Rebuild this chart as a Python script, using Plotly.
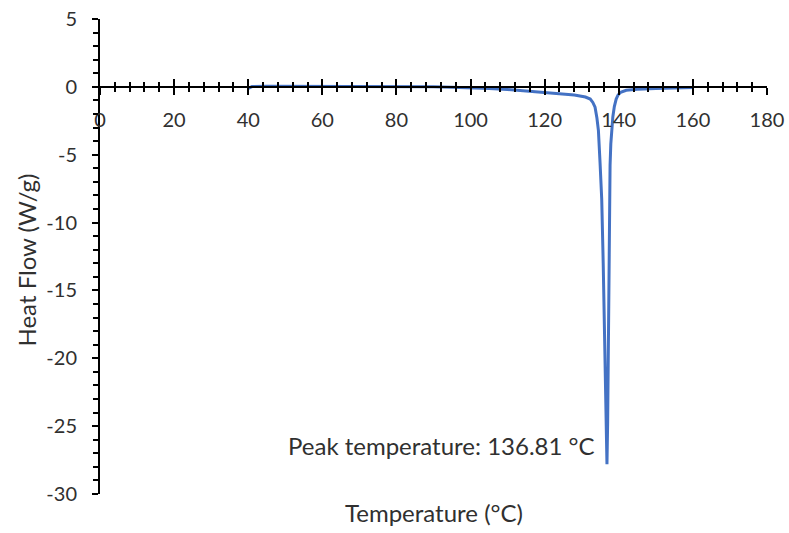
import plotly.graph_objects as go

temperature = [40, 41, 45, 50, 60, 70, 80, 90, 95, 100, 105, 110, 115, 120, 125, 128, 131, 132.3,
               133.0, 133.6, 134.1, 134.5, 134.95, 135.4, 135.8, 136.1, 136.35, 136.55, 136.81,
               137.0, 137.2, 137.35, 137.5, 137.65, 137.85, 138.1, 138.4, 138.8, 139.3, 139.8,
               140.5, 142, 145, 150, 155, 160]
heat_flow = [-0.12, 0.02, 0.05, 0.05, 0.05, 0.04, 0.03, 0.0, -0.02, -0.05, -0.12, -0.2, -0.3, -0.4,
             -0.5, -0.6, -0.75, -0.9,
             -1.15, -1.5, -2.3, -3.2, -5.6, -8.3, -13.0, -17.4, -21.5, -24.7, -27.8,
             -24.7, -17.4, -12.5, -8.3, -5.8, -4.2, -3.2, -2.2, -1.45, -0.9, -0.6,
             -0.4, -0.25, -0.18, -0.12, -0.08, -0.05]
peak_T = 136.81
peak_label = "Peak temperature: 136.81 °C"
x_title = "Temperature (°C)"
y_title = "Heat Flow (W/g)"
x_tick_vals = [0, 20, 40, 60, 80, 100, 120, 140, 160, 180]
x_tick_text = ["0", "20", "40", "60", "80", "100", "120", "140", "160", "180"]
y_tick_vals = [5, 0, -5, -10, -15, -20, -25, -30]
y_tick_text = ["5", "0", "-5", "-10", "-15", "-20", "-25", "-30"]

FONT = "Lato"
TXT = "#303030"
fig = go.Figure()
fig.add_trace(go.Scatter(x=temperature, y=heat_flow, mode="lines",
                         line=dict(color="#4472C4", width=3), showlegend=False))
fig.add_trace(go.Scatter(x=[0], y=[0], xaxis="x2", mode="markers",
                         marker=dict(opacity=0), showlegend=False, hoverinfo="skip"))

pos = 30 / 35
common = dict(range=[0, 180], showgrid=False, zeroline=False, showline=True, automargin=False,
              linecolor="black", linewidth=2, anchor="free", position=pos)
fig.update_layout(
    width=789, height=533,
    margin=dict(l=100, r=22, t=19, b=39),
    plot_bgcolor="white", paper_bgcolor="white",
    font=dict(family=FONT, color=TXT),
    xaxis=dict(**common, tickmode="array", tickvals=x_tick_vals, ticktext=x_tick_text,
               ticks="outside", ticklen=7,
               tickwidth=2, tickcolor="black", tickfont=dict(size=20, family=FONT, color=TXT),
               ticklabelstandoff=8,
               minor=dict(tick0=0, dtick=4, ticks="outside", ticklen=4, tickwidth=2, tickcolor="black")),
    xaxis2=dict(**common, overlaying="x", side="bottom", tickmode="array", tickvals=x_tick_vals,
                ticks="inside", ticklen=7, tickwidth=2, tickcolor="black", showticklabels=False,
                minor=dict(tick0=0, dtick=4, ticks="inside", ticklen=4, tickwidth=2, tickcolor="black")),
    yaxis=dict(range=[-30, 5], showgrid=False, zeroline=False, showline=True, linecolor="black",
               automargin=False,
               linewidth=2, tickmode="array", tickvals=y_tick_vals, ticktext=y_tick_text,
               ticks="outside", ticklen=6,
               tickwidth=2, tickcolor="black", tickfont=dict(size=20, family=FONT, color=TXT),
               ticklabelstandoff=11,
               minor=dict(tick0=0, dtick=1, ticks="outside", ticklen=5, tickwidth=2, tickcolor="black")),
    annotations=[
        dict(text=peak_label, x=peak_T, y=-26.4, xref="x", yref="y", xanchor="right",
             yanchor="middle", xshift=-10, showarrow=False,
             font=dict(size=24, family=FONT, color=TXT)),
        dict(text=x_title, x=0.5, y=0, xref="paper", yref="paper", xanchor="center",
             yanchor="middle", yshift=-18, showarrow=False,
             font=dict(size=24, family=FONT, color=TXT)),
        dict(text=y_title, x=0, y=0.5, xref="paper", yref="paper", xanchor="center",
             yanchor="middle", xshift=-74, yshift=-4, textangle=-90, showarrow=False,
             font=dict(size=24, family=FONT, color=TXT)),
    ],
)
fig.write_html("out.html")
